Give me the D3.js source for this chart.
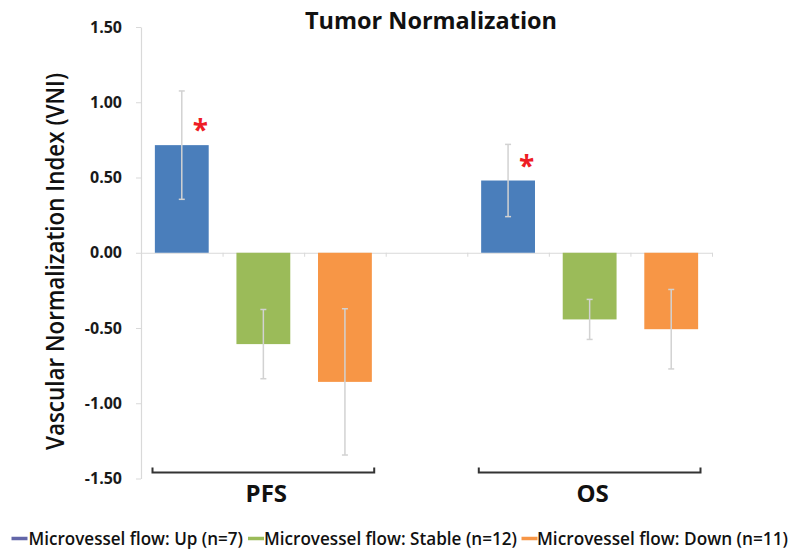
<!DOCTYPE html>
<html>
<head>
<meta charset="utf-8">
<script src="https://cdn.jsdelivr.net/npm/d3@7"></script>
<style>
  html, body { margin: 0; padding: 0; background: #fff; }
  svg { display: block; font-family: "Open Sans", sans-serif; }
</style>
</head>
<body>
<svg id="chart" width="800" height="559"></svg>
<script>
// ---- data ----
const categories = ["PFS", "OS"];
const seriesNames = [
  "Microvessel flow: Up (n=7)",
  "Microvessel flow: Stable (n=12)",
  "Microvessel flow: Down (n=11)"
];
const seriesColors = ["#4a7ebb", "#9bbb59", "#f79646"];
const legendColors = ["#6366a8", "#9bbb59", "#f79646"];
const valuesPFS = [0.715, -0.607, -0.858];
const valuesOS = [0.48, -0.443, -0.508];
const errorsPFS = [0.36, 0.23, 0.486];
const errorsOS = [0.24, 0.133, 0.264];
const significant = [true, false, false];
const yTicks = [1.5, 1.0, 0.5, 0.0, -0.5, -1.0, -1.5];
const title = "Tumor Normalization";
const yTitle = "Vascular Normalization Index (VNI)";

const values = { PFS: valuesPFS, OS: valuesOS };
const errors = { PFS: errorsPFS, OS: errorsOS };

const svg = d3.select("#chart");

const axisX0 = 141, axisX1 = 712;
const y = d3.scaleLinear().domain([-1.5, 1.5]).range([478.5, 27]);

// outer groups and inner series
const x0 = d3.scaleBand().domain(categories).range([axisX0, axisX1]).paddingInner(0.25).paddingOuter(0);
const x1 = d3.scaleBand().domain(d3.range(seriesNames.length)).range([0, x0.bandwidth()]).padding(0);
const barFrac = 0.66;
const barW = x1.bandwidth() * barFrac;
const barCenter = (c, i) => x0(c) + x1(i) + x1.bandwidth() / 2;

// y axis
const loc = d3.formatLocale({ decimal: ".", thousands: ",", grouping: [3], currency: ["$", ""], minus: "-" });
const fmt = loc.format(".2f");
const yAxis = d3.axisLeft(y).tickValues(yTicks).tickFormat(fmt).tickSize(5).tickSizeOuter(0).tickPadding(14);
const gy = svg.append("g").attr("transform", `translate(${axisX0},0)`).call(yAxis);
gy.select(".domain").attr("stroke", "#d9d9d9").attr("stroke-width", 1.2);
gy.selectAll(".tick line").attr("stroke", "#d9d9d9");
gy.selectAll(".tick text")
  .attr("fill", "#1a1a1a").style("font-size", "16px").style("font-weight", "700")
  .attr("font-family", "'Open Sans', sans-serif");

// zero baseline with slot ticks
const slotScale = d3.scaleLinear().domain([0, 7]).range([axisX0, axisX1]);
const xAxis = d3.axisBottom(slotScale).tickValues(d3.range(0, 8)).tickFormat("").tickSize(4).tickSizeOuter(0);
const gx = svg.append("g").attr("transform", `translate(0,${y(0)})`).call(xAxis);
gx.select(".domain").attr("stroke", "#d9d9d9").attr("stroke-width", 1.2);
gx.selectAll(".tick line").attr("stroke", "#d9d9d9");

// bars
const barData = [];
categories.forEach(c => {
  seriesNames.forEach((s, i) => {
    barData.push({ c, i, v: values[c][i], e: errors[c][i] });
  });
});

svg.append("g").selectAll("rect").data(barData).join("rect")
  .attr("x", d => barCenter(d.c, d.i) - barW / 2)
  .attr("width", barW)
  .attr("y", d => y(Math.max(0, d.v)))
  .attr("height", d => Math.abs(y(d.v) - y(0)))
  .attr("fill", d => seriesColors[d.i]);

// error bars
const eb = svg.append("g").attr("stroke", "#d2d2d2").attr("stroke-width", 1.5).attr("fill", "none");
barData.forEach(d => {
  const cx = barCenter(d.c, d.i);
  eb.append("line").attr("x1", cx).attr("x2", cx).attr("y1", y(d.v + d.e)).attr("y2", y(d.v - d.e));
  eb.append("line").attr("x1", cx - 3).attr("x2", cx + 3).attr("y1", y(d.v + d.e)).attr("y2", y(d.v + d.e));
  eb.append("line").attr("x1", cx - 3).attr("x2", cx + 3).attr("y1", y(d.v - d.e)).attr("y2", y(d.v - d.e));
});

// significance asterisks
svg.append("g").selectAll("text").data(barData.filter(d => significant[d.i])).join("text")
  .attr("x", d => barCenter(d.c, d.i) + 18.5)
  .attr("y", d => y(d.v) - 5)
  .attr("text-anchor", "middle")
  .attr("fill", "#ee1c25")
  .style("font-size", "28px").style("font-weight", "700")
  .text("*");

// category brackets
const inset = 11.5;
const brY = y(-1.5) - 6;
const br = svg.append("g").attr("stroke", "#333").attr("stroke-width", 2).attr("fill", "none");
categories.forEach(c => {
  const a = x0(c) + inset, b = x0(c) + x0.bandwidth() - inset;
  br.append("path").attr("d", `M${a},${brY - 5}V${brY}H${b}V${brY - 5}`);
});
svg.append("g").selectAll("text").data(categories).join("text")
  .attr("x", c => x0(c) + x0.bandwidth() / 2 + 3)
  .attr("y", 502)
  .attr("text-anchor", "middle")
  .attr("fill", "#111")
  .style("font-size", "24px").style("font-weight", "700")
  .text(c => c);

// title
svg.append("text")
  .attr("x", 431).attr("y", 28.5)
  .attr("text-anchor", "middle")
  .attr("fill", "#111")
  .attr("textLength", 252).attr("lengthAdjust", "spacingAndGlyphs")
  .style("font-size", "24px").style("font-weight", "700")
  .text(title);

// y-axis title
svg.append("text")
  .attr("transform", "translate(63.5,261.5) rotate(-90)")
  .attr("text-anchor", "middle")
  .attr("fill", "#111")
  .attr("textLength", 377).attr("lengthAdjust", "spacingAndGlyphs")
  .style("font-size", "25px").style("font-weight", "600")
  .text(yTitle);

// legend
const legendX = [11.5, 248, 521.5];
const legendTextX = [28.5, 264, 537];
const legendTextW = [214.5, 253, 251];
const lg = svg.append("g");
seriesNames.forEach((s, i) => {
  lg.append("line")
    .attr("x1", legendX[i]).attr("x2", legendX[i] + 16)
    .attr("y1", 538.5).attr("y2", 538.5)
    .attr("stroke", legendColors[i]).attr("stroke-width", 3.5);
  lg.append("text")
    .attr("x", legendTextX[i]).attr("y", 545)
    .attr("fill", "#111")
    .attr("textLength", legendTextW[i]).attr("lengthAdjust", "spacingAndGlyphs")
    .style("font-size", "18px").style("font-weight", "600")
    .text(s);
});
</script>
</body>
</html>
